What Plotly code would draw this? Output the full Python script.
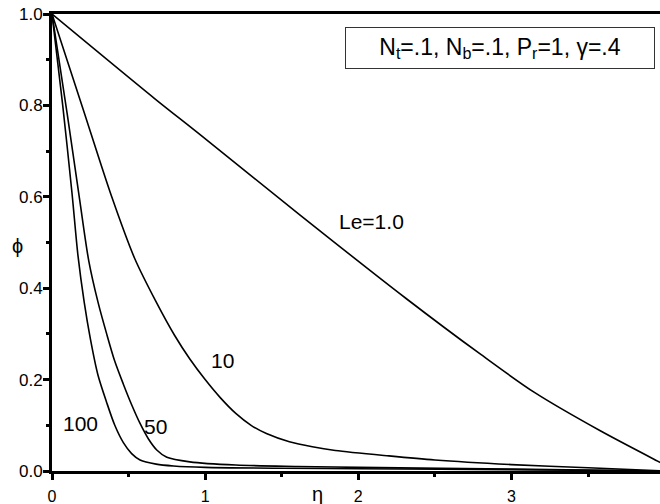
import plotly.graph_objects as go

# concentration profiles phi(eta) for several Lewis numbers
eta_le1 = [0, 0.67, 0.967, 1.62, 2.31, 2.8, 3.15, 3.58, 3.97, 4.08]
phi_le1 = [1, 0.815, 0.736, 0.56, 0.378, 0.255, 0.172, 0.088, 0.019, 0]

eta_le10 = [0, 0.2, 0.39, 0.54, 0.68, 0.8, 0.9, 1.0, 1.1, 1.2, 1.3, 1.4, 1.55, 1.7, 1.85, 2.2, 2.5, 3.0, 3.5, 4.0]
phi_le10 = [1, 0.795, 0.6, 0.465, 0.37, 0.297, 0.245, 0.2, 0.16, 0.126, 0.1, 0.082, 0.064, 0.053, 0.045, 0.033, 0.024, 0.014, 0.007, 0]

eta_le50 = [0, 0.1, 0.18, 0.24, 0.30, 0.357, 0.41, 0.466, 0.52, 0.575, 0.63, 0.684, 0.75, 0.9, 1.2, 1.6, 2, 3, 4]
phi_le50 = [1, 0.78, 0.595, 0.46, 0.37, 0.30, 0.24, 0.19, 0.145, 0.104, 0.07, 0.046, 0.03, 0.02, 0.013, 0.01, 0.008, 0.004, 0]

eta_le100 = [0, 0.07, 0.13, 0.17, 0.21, 0.25, 0.30, 0.357, 0.41, 0.466, 0.52, 0.575, 0.68, 0.793, 1.0, 1.5, 2, 3, 4]
phi_le100 = [1, 0.80, 0.61, 0.47, 0.37, 0.29, 0.21, 0.15, 0.10, 0.062, 0.038, 0.024, 0.015, 0.011, 0.008, 0.006, 0.005, 0.003, 0]

curve_labels = ["Le=1.0", "10", "50", "100"]
label_eta = [2.085, 1.111, 0.673, 0.183]
label_phi = [0.545, 0.241, 0.098, 0.105]

x_ticks = [0, 1, 2, 3]
y_ticks = [0.0, 0.2, 0.4, 0.6, 0.8, 1.0]

FONT = "Liberation Sans, Arial, sans-serif"

fig = go.Figure()

for xs, ys in [(eta_le1, phi_le1), (eta_le10, phi_le10),
               (eta_le50, phi_le50), (eta_le100, phi_le100)]:
    fig.add_trace(go.Scatter(
        x=xs, y=ys,
        mode="lines",
        line=dict(color="black", width=1.6, shape="spline", smoothing=0.8),
        showlegend=False,
        hoverinfo="skip",
    ))

for txt, xv, yv in zip(curve_labels, label_eta, label_phi):
    fig.add_annotation(x=xv, y=yv, xref="x", yref="y", text=txt,
                       xanchor="center", yanchor="middle",
                       showarrow=False, font=dict(family=FONT, size=21, color="black"))

# parameter box
fig.add_annotation(
    x=0.737, y=0.926, xref="paper", yref="paper",
    xanchor="center", yanchor="middle",
    text="N<sub>t</sub>=.1, N<sub>b</sub>=.1, P<sub>r</sub>=1, γ=.4",
    showarrow=False,
    font=dict(family=FONT, size=23, color="black"),
    bordercolor="#333333", borderwidth=1, borderpad=2,
    width=304, height=36, bgcolor="white",
)

# axis titles
fig.add_annotation(x=0.436, y=-0.050, xref="paper", yref="paper", text="η",
                   xanchor="center", yanchor="middle",
                   showarrow=False, font=dict(family=FONT, size=20, color="black"))
fig.add_annotation(x=-0.056, y=0.492, xref="paper", yref="paper", text="ϕ",
                   xanchor="center", yanchor="middle",
                   showarrow=False, font=dict(family=FONT, size=20, color="black"))

fig.update_xaxes(
    range=[0, 3.97],
    tickvals=x_ticks,
    ticks="outside", ticklen=6, tickwidth=2.5, tickcolor="black",
    minor=dict(dtick=0.5, ticks="outside", ticklen=3, tickwidth=2.5, tickcolor="black"),
    showline=True, linewidth=3, linecolor="black", mirror=True,
    showgrid=False, zeroline=False, automargin=False,
    tickfont=dict(family=FONT, size=16, color="black"),
    ticklabelstandoff=3,
)
fig.update_yaxes(
    range=[0, 1],
    tickvals=y_ticks, tickformat=".1f",
    ticks="outside", ticklen=6, tickwidth=2.5, tickcolor="black",
    minor=dict(dtick=0.1, ticks="outside", ticklen=3, tickwidth=2.5, tickcolor="black"),
    showline=True, linewidth=3, linecolor="black", mirror=True,
    showgrid=False, zeroline=False, automargin=False,
    tickfont=dict(family=FONT, size=17, color="black"),
    ticklabelstandoff=-3,
)

fig.update_layout(
    width=660, height=504,
    margin=dict(l=52, r=0, t=14, b=33),
    plot_bgcolor="white", paper_bgcolor="white",
)

# the page body has a default 8px margin; drop it so the figure sits at the corner
fig.write_html("out.html", config={"displayModeBar": False},
               post_script="document.body.style.margin='0';")
